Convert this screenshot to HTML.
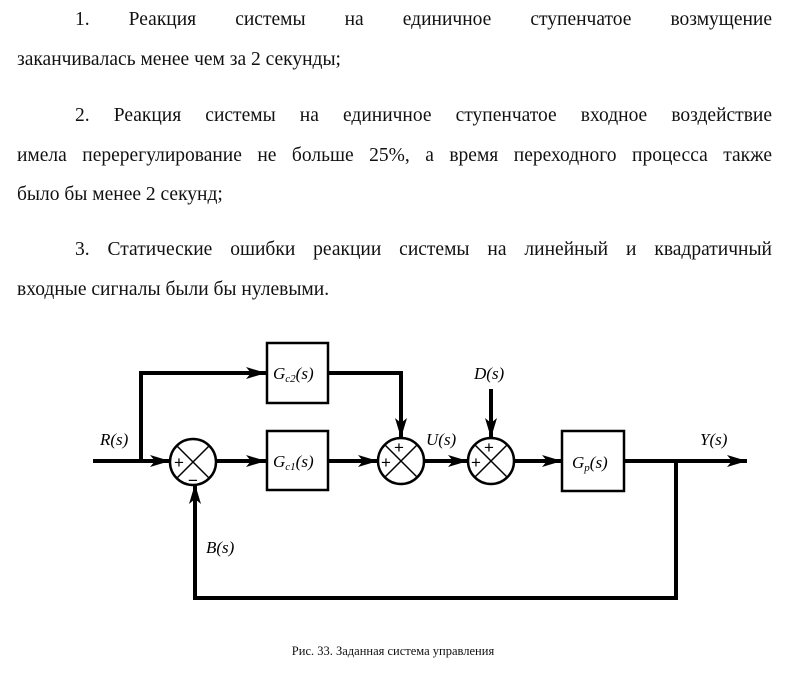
<!DOCTYPE html>
<html><head><meta charset="utf-8"><style>
body{margin:0;background:#fff;width:786px;height:673px;position:relative;overflow:hidden;font-family:"Liberation Serif","DejaVu Serif",serif;color:#111}
.l{position:absolute;left:17px;width:755px;font-size:19.5px;white-space:nowrap;line-height:24px;font-family:"Liberation Serif","DejaVu Serif",serif}
.j{text-align:justify;text-align-last:justify;white-space:normal}
svg{position:absolute;left:0;top:0}
</style></head><body>
<div class="l j" style="top:8px;left:75px;width:697px">1. Реакция системы на единичное ступенчатое возмущение</div>
<div class="l" style="top:48px">заканчивалась менее чем за 2 секунды;</div>
<div class="l j" style="top:104px;left:75px;width:697px">2. Реакция системы на единичное ступенчатое входное воздействие</div>
<div class="l j" style="top:144px">имела перерегулирование не больше 25%, а время переходного процесса также</div>
<div class="l" style="top:183px">было бы менее 2 секунд;</div>
<div class="l j" style="top:238px;left:75px;width:697px">3. Статические ошибки реакции системы на линейный и квадратичный</div>
<div class="l" style="top:278px">входные сигналы были бы нулевыми.</div>
<div style="position:absolute;top:644px;left:0;width:786px;text-align:center;font-size:12.5px">Рис. 33. Заданная система управления</div>
<svg width="786" height="673" viewBox="0 0 786 673">
<defs>
<marker id="b" viewBox="0 0 20 12" refX="20" refY="6" markerWidth="20" markerHeight="12" orient="auto" markerUnits="userSpaceOnUse"><path d="M0,0L20,6L0,12L5,6z" fill="#000"/></marker></defs>
<g stroke="#000" stroke-width="4" fill="none">
<path d="M93,461H170" marker-end="url(#b)"/>
<path d="M141,461V373H266" marker-end="url(#b)"/>
<path d="M216,461H266" marker-end="url(#b)"/>
<path d="M328,373H401V438" marker-end="url(#b)"/>
<path d="M328,461H378" marker-end="url(#b)"/>
<path d="M424,461H468" marker-end="url(#b)"/>
<path d="M491,389V438" marker-end="url(#b)"/>
<path d="M514,461H562" marker-end="url(#b)"/>
<path d="M624,461H747" marker-end="url(#b)"/>
<path d="M676,461V598H195V484" marker-end="url(#b)"/>
</g>
<g stroke="#000" stroke-width="2.5" fill="#fff">
<rect x="267" y="343" width="61" height="60"/>
<rect x="267" y="431" width="61" height="59"/>
<rect x="562" y="431" width="62" height="60"/>
<circle cx="193" cy="462" r="23"/>
<circle cx="401" cy="461" r="23"/>
<circle cx="491" cy="461" r="23"/>
</g>
<g stroke="#000" stroke-width="1.5">
<path d="M177,446L209,478M209,446L177,478"/>
<path d="M385,445L417,477M417,445L385,477"/>
<path d="M475,445L507,477M507,445L475,477"/>
</g>
<g font-family="Liberation Sans,sans-serif" font-size="17" fill="#000">
<text x="174" y="468">+</text><text x="188" y="486">−</text>
<text x="381" y="468">+</text><text x="394" y="453">+</text>
<text x="471" y="468">+</text><text x="484" y="453">+</text>
</g>
<g font-family="Liberation Serif,serif" font-style="italic" font-size="17" fill="#000">
<text x="100" y="445">R(s)</text>
<text x="273" y="379">G<tspan font-size="11" dy="3">c2</tspan><tspan dy="-3">(s)</tspan></text>
<text x="273" y="467">G<tspan font-size="11" dy="3">c1</tspan><tspan dy="-3">(s)</tspan></text>
<text x="426" y="445">U(s)</text>
<text x="474" y="379">D(s)</text>
<text x="572" y="468">G<tspan font-size="11" dy="3">p</tspan><tspan dy="-3">(s)</tspan></text>
<text x="700" y="445">Y(s)</text>
<text x="206" y="553">B(s)</text>
</g>
</svg>
</body></html>
